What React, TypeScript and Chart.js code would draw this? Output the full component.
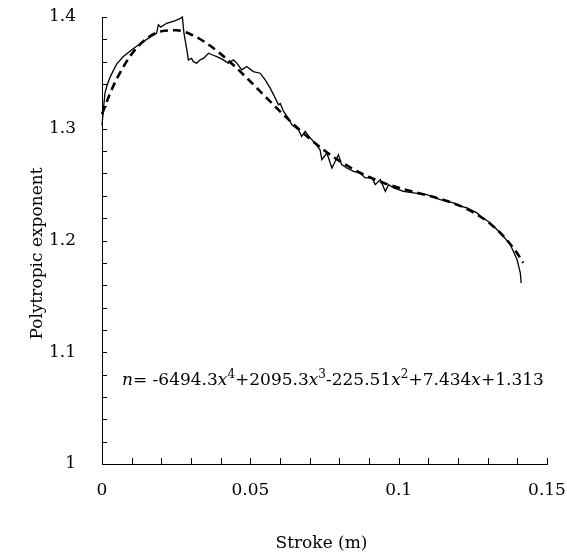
import { useEffect, useRef } from "react";
import { Chart, registerables } from "chart.js";

Chart.register(...registerables);

// Measured polytropic exponent (solid line)
const strokeMeasured = [
  0, 0.0005, 0.001, 0.0016, 0.0027, 0.0038, 0.005, 0.0072, 0.0106, 0.0139,
  0.0168, 0.0184, 0.019, 0.0198, 0.0218, 0.0245, 0.0263, 0.0271, 0.0276, 0.0286,
  0.0291, 0.0302, 0.0308, 0.0319, 0.033, 0.0342, 0.0359, 0.0373, 0.0387, 0.0409,
  0.0426, 0.0443, 0.0455, 0.0471, 0.0488, 0.051, 0.0533, 0.055, 0.0567, 0.0584,
  0.0595, 0.0601, 0.0612, 0.0628, 0.064, 0.0662, 0.0673, 0.0685, 0.0702, 0.0718,
  0.0735, 0.0741, 0.0758, 0.0775, 0.0797, 0.0808, 0.0825, 0.0848, 0.087, 0.0887,
  0.091, 0.0921, 0.0938, 0.0955, 0.0966, 0.0983, 0.1016, 0.105, 0.1095, 0.114,
  0.1185, 0.1208, 0.123, 0.1264, 0.1275, 0.1305, 0.1331, 0.1355, 0.1376, 0.1399,
  0.141, 0.1413,
];
const nMeasured = [
  1.303, 1.318, 1.332, 1.338, 1.346, 1.352, 1.358, 1.3646, 1.3718, 1.378,
  1.383, 1.3856, 1.393, 1.391, 1.3944, 1.3965, 1.3985, 1.4, 1.386, 1.3705,
  1.3616, 1.363, 1.36, 1.3587, 1.3615, 1.363, 1.3676, 1.366, 1.3646, 1.3616,
  1.3587, 1.3616, 1.3585, 1.3527, 1.3557, 1.3512, 1.3497, 1.3438, 1.3363, 1.3274,
  1.3214, 1.3225, 1.3155, 1.3095, 1.3036, 1.2991, 1.2931, 1.2976, 1.2917, 1.2872,
  1.2812, 1.2723, 1.2783, 1.2649, 1.2768, 1.2679, 1.2649, 1.2619, 1.2604, 1.256,
  1.256, 1.25, 1.2545, 1.244, 1.25, 1.247, 1.244, 1.2426, 1.241, 1.2366,
  1.2336, 1.2307, 1.2292, 1.2247, 1.2217, 1.2165, 1.2098, 1.203, 1.1964, 1.183,
  1.171, 1.162,
];

// Fitted curve (dashed line)
const strokeFit = [
  0, 0.0025, 0.005, 0.01, 0.015, 0.02, 0.025, 0.03, 0.035, 0.04, 0.045, 0.05,
  0.055, 0.06, 0.065, 0.07, 0.075, 0.08, 0.085, 0.09, 0.095, 0.1, 0.105, 0.11,
  0.115, 0.12, 0.125, 0.13, 0.135, 0.14, 0.142,
];
const nFit = [
  1.313, 1.3302, 1.3448, 1.3668, 1.3805, 1.3872, 1.3881, 1.3844, 1.377, 1.367,
  1.3552, 1.3423, 1.3289, 1.3156, 1.3029, 1.2911, 1.2805, 1.2712, 1.2634, 1.2568,
  1.2515, 1.2472, 1.2435, 1.2401, 1.2364, 1.2318, 1.2255, 1.2168, 1.2048, 1.1884,
  1.18,
];

const xTickLabels = ["0", "0.05", "0.1", "0.15"];
const yTickLabels = ["1", "1.1", "1.2", "1.3", "1.4"];
const xTitle = "Stroke (m)";
const yTitle = "Polytropic exponent";
const equation = [
  { t: "n", s: "i" },
  { t: "= -6494.3", s: "n" },
  { t: "x", s: "i" },
  { t: "4", s: "s" },
  { t: "+2095.3", s: "n" },
  { t: "x", s: "i" },
  { t: "3", s: "s" },
  { t: "-225.51", s: "n" },
  { t: "x", s: "i" },
  { t: "2", s: "s" },
  { t: "+7.434", s: "n" },
  { t: "x", s: "i" },
  { t: "+1.313", s: "n" },
];

const FAMILY = '"DejaVu Serif", serif';

const overlay = {
  id: "overlay",
  afterDraw(chart: any) {
    const { ctx, chartArea, scales } = chart;
    const xs = scales.x;
    const ys = scales.y;
    ctx.save();
    ctx.strokeStyle = "#000";
    ctx.lineWidth = 1;
    ctx.beginPath();
    xs.ticks.forEach((t: any) => {
      const px = Math.round(xs.getPixelForValue(t.value)) + 0.5;
      ctx.moveTo(px, chartArea.bottom);
      ctx.lineTo(px, chartArea.bottom - 6);
    });
    ys.ticks.forEach((t: any) => {
      const py = Math.round(ys.getPixelForValue(t.value)) + 0.5;
      ctx.moveTo(chartArea.left, py);
      ctx.lineTo(chartArea.left + 5, py);
    });
    ctx.stroke();

    ctx.fillStyle = "#000";
    ctx.font = `17px ${FAMILY}`;
    ctx.textAlign = "center";
    ctx.textBaseline = "alphabetic";
    ctx.fillText(xTitle, (chartArea.left + chartArea.right) / 2 - 3, chartArea.bottom + 84);

    ctx.save();
    ctx.translate(chartArea.left - 60, (chartArea.top + chartArea.bottom) / 2 + 13);
    ctx.rotate(-Math.PI / 2);
    ctx.fillText(yTitle, 0, 0);
    ctx.restore();

    // equation
    ctx.textAlign = "left";
    let x = chartArea.left + 20;
    const base = chartArea.bottom - 79;
    equation.forEach((seg) => {
      let y = base;
      if (seg.s === "i") ctx.font = `italic 17px ${FAMILY}`;
      else if (seg.s === "s") {
        ctx.font = `12px ${FAMILY}`;
        y = base - 7;
      } else ctx.font = `17px ${FAMILY}`;
      ctx.fillText(seg.t, x, y);
      x += ctx.measureText(seg.t).width;
    });
    ctx.restore();
  },
};

const zeroPad = (s: any) => {
  s.paddingTop = 0;
  s.paddingBottom = 0;
  s.paddingLeft = 0;
  s.paddingRight = 0;
};

export default function App() {
  const ref = useRef<HTMLCanvasElement | null>(null);
  useEffect(() => {
    if (!ref.current) return;
    const measured = strokeMeasured.map((v, i) => ({ x: v, y: nMeasured[i] }));
    const fit = strokeFit.map((v, i) => ({ x: v, y: nFit[i] }));
    const chart = new Chart(ref.current, {
      type: "scatter",
      data: {
        datasets: [
          {
            label: "Measured",
            data: measured,
            showLine: true,
            borderColor: "#000",
            backgroundColor: "#000",
            borderWidth: 1.3,
            pointRadius: 0,
            tension: 0,
            clip: 5,
          },
          {
            label: "Fit",
            data: fit,
            showLine: true,
            borderColor: "#000",
            backgroundColor: "#000",
            borderWidth: 2.6,
            borderDash: [8, 5],
            pointRadius: 0,
            cubicInterpolationMode: "monotone",
            clip: 5,
          },
        ],
      },
      options: {
        animation: false,
        responsive: true,
        maintainAspectRatio: false,
        layout: { padding: { top: 17, right: 20, left: 0, bottom: 0 } },
        plugins: { legend: { display: false }, tooltip: { enabled: false } },
        scales: {
          x: {
            type: "linear",
            min: 0,
            max: 0.15,
            afterFit: (s: any) => {
              s.height = 90;
              zeroPad(s);
            },
            grid: { display: true, drawOnChartArea: false, drawTicks: false },
            border: { display: true, color: "#000", width: 1 },
            ticks: {
              stepSize: 0.01,
              autoSkip: false,
              maxRotation: 0,
              minRotation: 0,
              padding: 16,
              color: "#000",
              font: { family: FAMILY, size: 17 },
              callback: (v: any) => {
                const l = xTickLabels.find((s) => Math.abs(parseFloat(s) - Number(v)) < 1e-6);
                return l ?? "";
              },
            },
          },
          y: {
            type: "linear",
            min: 1,
            max: 1.4,
            afterFit: (s: any) => {
              s.width = 102;
              zeroPad(s);
            },
            grid: { display: true, drawOnChartArea: false, drawTicks: false },
            border: { display: true, color: "#000", width: 1 },
            ticks: {
              stepSize: 0.02,
              autoSkip: false,
              padding: 26,
              color: "#000",
              font: { family: FAMILY, size: 17 },
              callback: (v: any) => {
                const l = yTickLabels.find((s) => Math.abs(parseFloat(s) - Number(v)) < 1e-6);
                return l ?? "";
              },
            },
          },
        },
      },
      plugins: [overlay],
    } as any);
    return () => chart.destroy();
  }, []);
  return (
    <div style={{ position: "absolute", left: 0, top: 0, width: 567, height: 554, background: "#fff" }}>
      <canvas ref={ref} />
    </div>
  );
}
